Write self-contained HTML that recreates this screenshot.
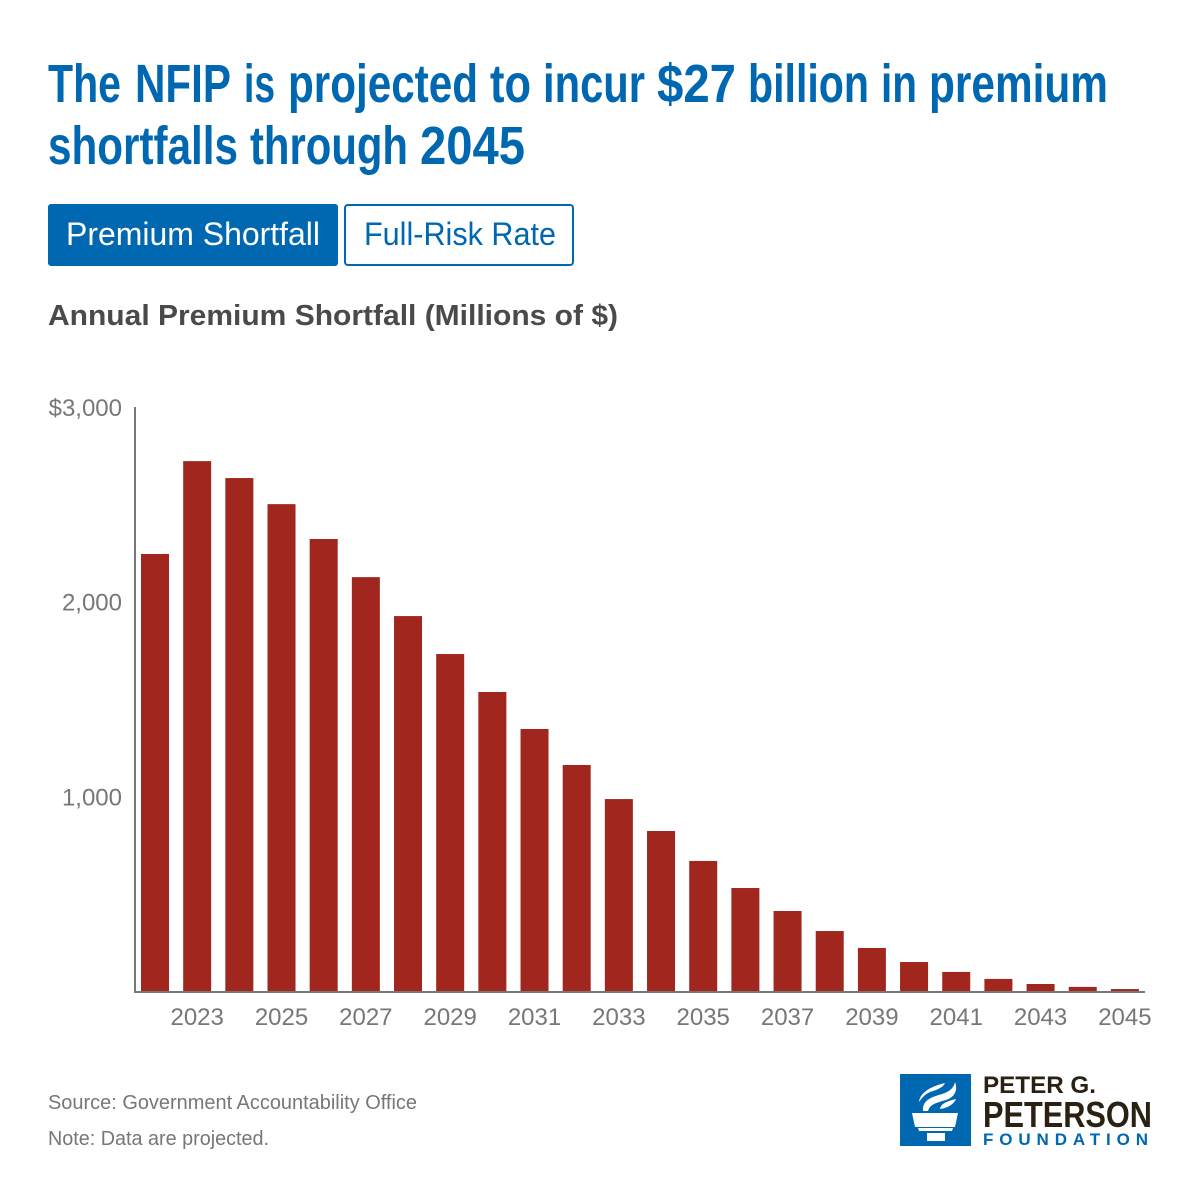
<!DOCTYPE html>
<html lang="en">
<head>
<meta charset="utf-8">
<title>NFIP Premium Shortfall</title>
<style>
html,body{margin:0;padding:0;background:#fff;width:1200px;height:1200px;overflow:hidden}
svg{display:block}
text{font-family:"Liberation Sans",sans-serif}
</style>
</head>
<body>
<svg id="chart" xmlns="http://www.w3.org/2000/svg" width="1200" height="1200" viewBox="0 0 1200 1200">
  <rect x="0" y="0" width="1200" height="1200" fill="#ffffff"/>
  <g fill="#0067b1" font-size="54" font-weight="700">
    <g>
      <text x="48" y="102" textLength="73" lengthAdjust="spacingAndGlyphs">The</text>
      <text x="135" y="102" textLength="96" lengthAdjust="spacingAndGlyphs">NFIP</text>
      <text x="244" y="102" textLength="31" lengthAdjust="spacingAndGlyphs">is</text>
      <text x="288" y="102" textLength="190" lengthAdjust="spacingAndGlyphs">projected</text>
      <text x="490" y="102" textLength="41" lengthAdjust="spacingAndGlyphs">to</text>
      <text x="543" y="102" textLength="102" lengthAdjust="spacingAndGlyphs">incur</text>
      <text x="657" y="102" textLength="79" lengthAdjust="spacingAndGlyphs">$27</text>
      <text x="748" y="102" textLength="121" lengthAdjust="spacingAndGlyphs">billion</text>
      <text x="881" y="102" textLength="36" lengthAdjust="spacingAndGlyphs">in</text>
      <text x="929" y="102" textLength="179" lengthAdjust="spacingAndGlyphs">premium</text>
    </g>
    <g>
      <text x="48" y="164" textLength="190" lengthAdjust="spacingAndGlyphs">shortfalls</text>
      <text x="250" y="164" textLength="158" lengthAdjust="spacingAndGlyphs">through</text>
      <text x="420" y="164" textLength="105" lengthAdjust="spacingAndGlyphs">2045</text>
    </g>
  </g>
  <g>
    <rect x="48" y="204" width="290" height="62" rx="3" fill="#0067b1"/>
    <text x="66" y="245" font-size="32" fill="#ffffff" textLength="254" lengthAdjust="spacingAndGlyphs">Premium Shortfall</text>
  </g>
  <g>
    <rect x="345" y="205" width="228" height="60" rx="3" fill="#ffffff" stroke="#0067b1" stroke-width="2"/>
    <text x="364" y="245" font-size="32" fill="#0067b1" textLength="192" lengthAdjust="spacingAndGlyphs">Full-Risk Rate</text>
  </g>
  <text x="48" y="325" font-size="29" font-weight="700" fill="#4a4a4a" textLength="570" lengthAdjust="spacingAndGlyphs">Annual Premium Shortfall (Millions of $)</text>
  <g id="y-ticks"></g>
  <g id="bars"></g>
  <g id="x-ticks"></g>
  <line x1="135" y1="407" x2="135" y2="993" stroke="#777777" stroke-width="2"/>
  <line x1="134" y1="992" x2="1145" y2="992" stroke="#777777" stroke-width="2"/>
  <text x="48" y="1109" font-size="20" fill="#777777" textLength="369" lengthAdjust="spacingAndGlyphs">Source: Government Accountability Office</text>
  <text x="48" y="1145" font-size="20" fill="#777777" textLength="221" lengthAdjust="spacingAndGlyphs">Note: Data are projected.</text>
  <g>
    <rect x="900" y="1074" width="71" height="72" fill="#0067b1"/>
    <g fill="#ffffff">
      <polygon points="912,1113 958,1113 955,1127 915,1127"/>
      <polygon points="918,1128 953,1128 952,1131 919,1131"/>
      <polygon points="927,1133 945,1133 945,1141 927,1141"/>
      <path d="M919 1102 C920 1092 932 1086 945 1083 C943 1088 936 1090 930 1092 C925 1094 922 1098 919 1102 Z"/>
      <path d="M923 1111 C922 1100 932 1097 942 1094 C949 1092 954 1088 955 1082 C958 1090 955 1097 946 1100 C936 1103 930 1104 928 1111 Z"/>
      <path d="M940 1109 C941 1103 948 1101 956 1099 C954 1104 948 1108 940 1109 Z"/>
    </g>
    <text x="983" y="1093" font-size="24" font-weight="700" fill="#2a2113" textLength="113" lengthAdjust="spacingAndGlyphs">PETER G.</text>
    <text x="983" y="1127" font-size="36" font-weight="700" fill="#2a2113" textLength="169" lengthAdjust="spacingAndGlyphs">PETERSON</text>
    <text x="983" y="1145" font-size="17" font-weight="700" fill="#0067b1" textLength="165" lengthAdjust="spacing">FOUNDATION</text>
  </g>
</svg>
<script>
const years = [2022,2023,2024,2025,2026,2027,2028,2029,2030,2031,2032,2033,2034,2035,2036,2037,2038,2039,2040,2041,2042,2043,2044,2045];
const shortfall = [2245,2722,2635,2501,2322,2126,1926,1731,1536,1346,1161,986,822,668,529,411,308,221,149,98,62,36,21,10];
const yTickValues = [1000,2000,3000];
const yTickLabels = ["1,000","2,000","$3,000"];
const xTickYears = [2023,2025,2027,2029,2031,2033,2035,2037,2039,2041,2043,2045];

const NS = 'http://www.w3.org/2000/svg';
function xScale(year){ return 155 + (year - years[0]) * 42.17; }
function yScale(value){ return 991 - value * (584 / 3000); }

const barGroup = document.getElementById('bars');
years.forEach(function(year, i){
  const top = yScale(shortfall[i]);
  const rect = document.createElementNS(NS, 'rect');
  
  
  rect.setAttribute('x', xScale(year) - 14);
  rect.setAttribute('y', top);
  rect.setAttribute('width', 28);
  rect.setAttribute('height', 991 - top);
  rect.setAttribute('fill', '#a0261e');
  barGroup.appendChild(rect);
});

const yGroup = document.getElementById('y-ticks');
yTickValues.forEach(function(value, i){
  const t = document.createElementNS(NS, 'text');
  
  
  t.setAttribute('x', 122);
  t.setAttribute('y', yScale(value) + 9);
  t.setAttribute('text-anchor', 'end');
  t.setAttribute('font-size', '24');
  t.setAttribute('fill', '#777777');
  t.textContent = yTickLabels[i];
  yGroup.appendChild(t);
});

const xGroup = document.getElementById('x-ticks');
xTickYears.forEach(function(year){
  const t = document.createElementNS(NS, 'text');
  
  
  t.setAttribute('x', xScale(year));
  t.setAttribute('y', 1025);
  t.setAttribute('text-anchor', 'middle');
  t.setAttribute('font-size', '24');
  t.setAttribute('fill', '#777777');
  t.textContent = String(year);
  xGroup.appendChild(t);
});
</script>
</body>
</html>
